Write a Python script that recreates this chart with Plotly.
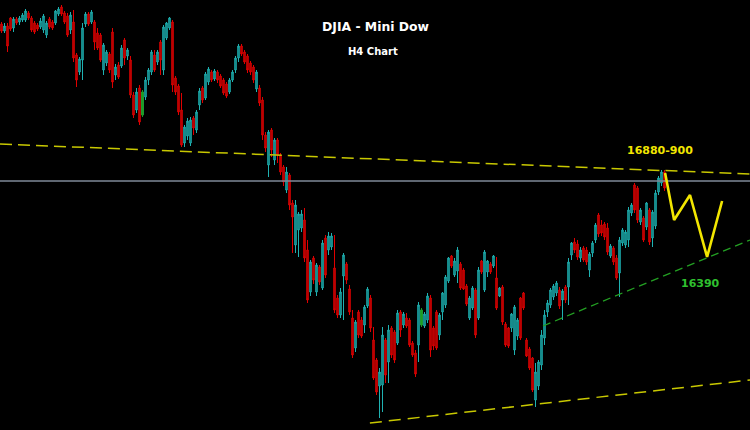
import plotly.graph_objects as go

# ---------------- data (H4 candles, DJIA mini) ----------------
opens = [17756,17714,17744,17792,17732,17786,17768,17780,17780,17822,17792,17762,17750,17738,17720,17690,17786,17768,17762,17816,
17858,17822,17804,17720,17768,17570,17468,17540,17756,17816,17768,17768,17702,17690,17480,17522,17576,17708,17450,17510,
17504,17660,17564,17540,17330,17240,17372,17210,17318,17420,17468,17570,17528,17648,17480,17672,17732,17768,17432,17384,
17240,17042,17084,17042,17192,17120,17270,17372,17312,17408,17468,17426,17468,17444,17420,17396,17348,17420,17480,17552,
17624,17588,17564,17522,17498,17366,17372,17300,17090,16910,17120,16940,17060,16970,16898,16760,16850,16682,16430,16520,
16532,16580,16400,16148,16352,16148,16298,16172,16472,16400,16418,16292,16112,16010,16244,16316,16166,15992,15812,16028,
15980,15950,16064,16112,15860,15740,15584,15590,15860,15728,15932,15908,15842,16028,15950,15992,15980,15842,15782,15830,
15950,15944,15980,16112,15932,16028,15890,16028,16070,16214,16364,16250,16274,16316,16280,16184,15992,16052,16160,15992,
16334,16160,16268,16316,16304,16232,16124,16178,15956,15932,15932,15800,15884,16112,16142,15860,15806,15752,15500,15584,
15710,15872,16028,16070,16118,16142,16160,16100,16178,16178,16370,16448,16436,16352,16412,16400,16280,16382,16460,16610,
16550,16556,16532,16364,16412,16352,16262,16442,16430,16460,16622,16790,16772,16568,16592,16538,16640,16472,16544,16748,
16802,16868]
highs = [17768,17762,17762,17798,17798,17798,17804,17822,17846,17834,17804,17774,17762,17792,17816,17774,17798,17780,17840,17858,
17870,17834,17822,17828,17840,17582,17558,17762,17828,17828,17840,17780,17732,17702,17642,17600,17588,17732,17516,17528,
17630,17672,17612,17564,17348,17372,17390,17360,17438,17492,17600,17600,17600,17660,17750,17768,17798,17780,17444,17396,
17342,17150,17192,17198,17204,17240,17372,17384,17468,17498,17480,17486,17480,17456,17432,17408,17432,17480,17564,17636,
17636,17600,17576,17534,17510,17480,17390,17318,17108,17120,17132,17072,17072,16982,16910,16898,16862,16700,16700,16628,
16640,16652,16460,16340,16364,16322,16310,16460,16490,16508,16502,16490,16130,16172,16382,16328,16190,16040,15980,16040,
15998,16070,16178,16130,15938,15752,15692,15938,15872,15950,15944,15920,16040,16040,16028,16022,15992,15854,15800,16088,
16052,16028,16142,16130,15944,16040,16022,16148,16250,16358,16370,16352,16418,16328,16292,16196,16124,16184,16172,16298,
16340,16400,16340,16328,16370,16358,16178,16190,15968,15938,16022,16070,15992,16118,16148,15872,15818,15758,15722,15740,
15920,16040,16100,16172,16196,16214,16178,16166,16190,16352,16448,16472,16460,16418,16424,16418,16388,16454,16562,16622,
16580,16568,16562,16436,16424,16370,16478,16532,16520,16658,16682,16802,16784,16652,16604,16688,16652,16640,16760,16844,
16880,16880]
lows = [17702,17702,17588,17714,17708,17750,17750,17768,17768,17780,17708,17696,17714,17726,17702,17672,17726,17720,17750,17804,
17804,17756,17678,17696,17528,17378,17450,17420,17738,17744,17756,17600,17600,17528,17450,17504,17462,17372,17420,17426,
17492,17510,17540,17312,17192,17222,17150,17198,17300,17390,17450,17468,17510,17450,17450,17660,17720,17348,17330,17210,
17018,17018,17060,17024,17090,17102,17240,17282,17300,17390,17408,17414,17402,17372,17330,17312,17336,17408,17462,17528,
17564,17516,17462,17450,17402,17348,17264,17060,16988,16838,16958,16910,16922,16850,16784,16742,16640,16382,16382,16358,
16508,16328,16082,16124,16196,16124,16190,16160,16232,16370,16400,16022,15992,15992,15980,16196,16010,15752,15788,15872,
15872,15902,16052,15908,15620,15530,15392,15428,15602,15602,15752,15722,15830,15878,15932,15932,15818,15758,15638,15728,
15938,15932,15962,15758,15800,15800,15860,15980,16052,16202,16292,16238,16202,16160,16160,16064,15980,16040,15872,15980,
16256,16148,16238,16256,16292,16040,16118,15950,15818,15812,15908,15770,15860,15860,16040,15758,15680,15548,15458,15560,
15680,15830,15998,16052,16100,16124,16046,15980,16082,16070,16340,16382,16340,16328,16328,16310,16238,16358,16442,16478,
16484,16460,16370,16352,16310,16220,16118,16424,16412,16418,16604,16622,16562,16550,16448,16520,16430,16418,16526,16730,
16784,16754]
closes = [17714,17744,17624,17726,17786,17762,17792,17810,17834,17792,17720,17708,17726,17774,17804,17762,17738,17732,17834,17846,
17816,17768,17690,17810,17552,17420,17546,17732,17816,17756,17828,17648,17612,17540,17630,17588,17480,17408,17498,17438,
17612,17552,17600,17330,17210,17348,17168,17348,17420,17480,17588,17480,17588,17540,17738,17762,17792,17390,17348,17228,
17030,17138,17174,17180,17132,17228,17354,17300,17456,17486,17420,17474,17420,17384,17342,17324,17420,17468,17552,17624,
17576,17528,17480,17468,17420,17468,17282,17090,17012,17108,17000,17060,16970,16868,16808,16868,16670,16598,16670,16616,
16616,16352,16100,16328,16220,16310,16208,16442,16250,16484,16484,16040,16010,16148,16370,16220,16028,15770,15968,15890,
15884,16058,16166,15932,15632,15548,15668,15890,15650,15920,15770,15740,16022,15920,16016,15944,15830,15770,15656,16070,
16040,16016,16124,15800,15824,15812,16010,16142,16238,16352,16304,16334,16400,16172,16166,16076,16112,16172,15890,16280,
16268,16388,16334,16268,16364,16052,16172,15968,15830,15824,16016,16058,15980,15872,16052,15764,15692,15560,15668,15728,
15890,16010,16082,16160,16184,16202,16064,16154,16100,16328,16442,16400,16358,16400,16340,16328,16376,16442,16550,16496,
16502,16478,16388,16424,16328,16232,16460,16520,16508,16640,16670,16640,16580,16640,16460,16682,16448,16628,16742,16832,
16868,16772]
highlight_idx = [47, 140]          # candles drawn in green on the source chart

# drawn trend / resistance lines (bar index, price)
resist_x, resist_y = [-0.5, 249.5], [17036, 16856]
support_x, support_y = [122.8, 249.5], [15362, 15620]
uptrend_x, uptrend_y = [180.5, 249.5], [15944, 16460]
level_x, level_y = [-0.5, 249.5], [16814, 16814]
zigzag_x = [221.2, 224.2, 229.5, 235.2, 240.2]
zigzag_y = [16862, 16580, 16730, 16358, 16694]

title_text = "DJIA - Mini Dow"
subtitle_text = "H4 Chart"
target_label, target_price = "16880-900", 17000
support_label, support_price = "16390", 16202

# ---------------- figure ----------------
idx = list(range(len(opens)))
fig = go.Figure()

fig.add_trace(go.Scatter(x=level_x, y=level_y, mode="lines",
                         line=dict(color="#7f8a99", width=1.6), hoverinfo="skip"))
fig.add_trace(go.Scatter(x=resist_x, y=resist_y, mode="lines",
                         line=dict(color="#c8c800", width=1.5, dash="12px,6px"), hoverinfo="skip"))
fig.add_trace(go.Scatter(x=support_x, y=support_y, mode="lines",
                         line=dict(color="#c8c800", width=1.5, dash="12px,7px"), hoverinfo="skip"))
fig.add_trace(go.Scatter(x=uptrend_x, y=uptrend_y, mode="lines",
                         line=dict(color="#23a023", width=1.3, dash="8px,5px"), hoverinfo="skip"))

fig.add_trace(go.Candlestick(
    x=idx, open=opens, high=highs, low=lows, close=closes,
    increasing=dict(line=dict(color="#1fb2b2", width=1), fillcolor="#0f6e70"),
    decreasing=dict(line=dict(color="#e00000", width=1), fillcolor="#a00000"),
    whiskerwidth=0, showlegend=False))

fig.add_trace(go.Candlestick(
    x=highlight_idx,
    open=[opens[i] for i in highlight_idx], high=[highs[i] for i in highlight_idx],
    low=[lows[i] for i in highlight_idx], close=[closes[i] for i in highlight_idx],
    increasing=dict(line=dict(color="#1f9f1f", width=1), fillcolor="#1f9f1f"),
    decreasing=dict(line=dict(color="#1f9f1f", width=1), fillcolor="#1f9f1f"),
    whiskerwidth=0, showlegend=False))

fig.add_trace(go.Scatter(x=zigzag_x, y=zigzag_y, mode="lines",
                         line=dict(color="#f2e600", width=2.6), hoverinfo="skip"))

font_fam = "DejaVu Sans, Verdana, sans-serif"
fig.add_annotation(x=376 / 750, y=1 - 26.5 / 430, xref="paper", yref="paper",
                   xanchor="center", yanchor="middle",
                   text="<b>" + title_text + "</b>", showarrow=False,
                   font=dict(family=font_fam, size=12.4, color="#ffffff"))
fig.add_annotation(x=373 / 750, y=1 - 51 / 430, xref="paper", yref="paper",
                   xanchor="center", yanchor="middle",
                   text="<b>" + subtitle_text + "</b>", showarrow=False,
                   font=dict(family=font_fam, size=10, color="#ffffff"))
fig.add_annotation(x=219.5, y=target_price, xref="x", yref="y",
                   xanchor="center", yanchor="middle",
                   text="<b>" + target_label + "</b>", showarrow=False,
                   font=dict(family=font_fam, size=11, color="#f2e600"))
fig.add_annotation(x=233.0, y=support_price, xref="x", yref="y",
                   xanchor="center", yanchor="middle",
                   text="<b>" + support_label + "</b>", showarrow=False,
                   font=dict(family=font_fam, size=11, color="#2fc02f"))

fig.update_layout(
    width=750, height=430,
    margin=dict(l=0, r=0, t=0, b=0),
    paper_bgcolor="#000000", plot_bgcolor="#000000",
    showlegend=False,
    xaxis=dict(range=[-0.5, 249.5], visible=False, rangeslider=dict(visible=False),
               showgrid=False, zeroline=False),
    yaxis=dict(range=[15320, 17900], visible=False, showgrid=False, zeroline=False),
)

fig.write_html("out.html", config={"displayModeBar": False},
               post_script="document.body.style.margin='0';"
                           "document.body.style.background='#000';")
